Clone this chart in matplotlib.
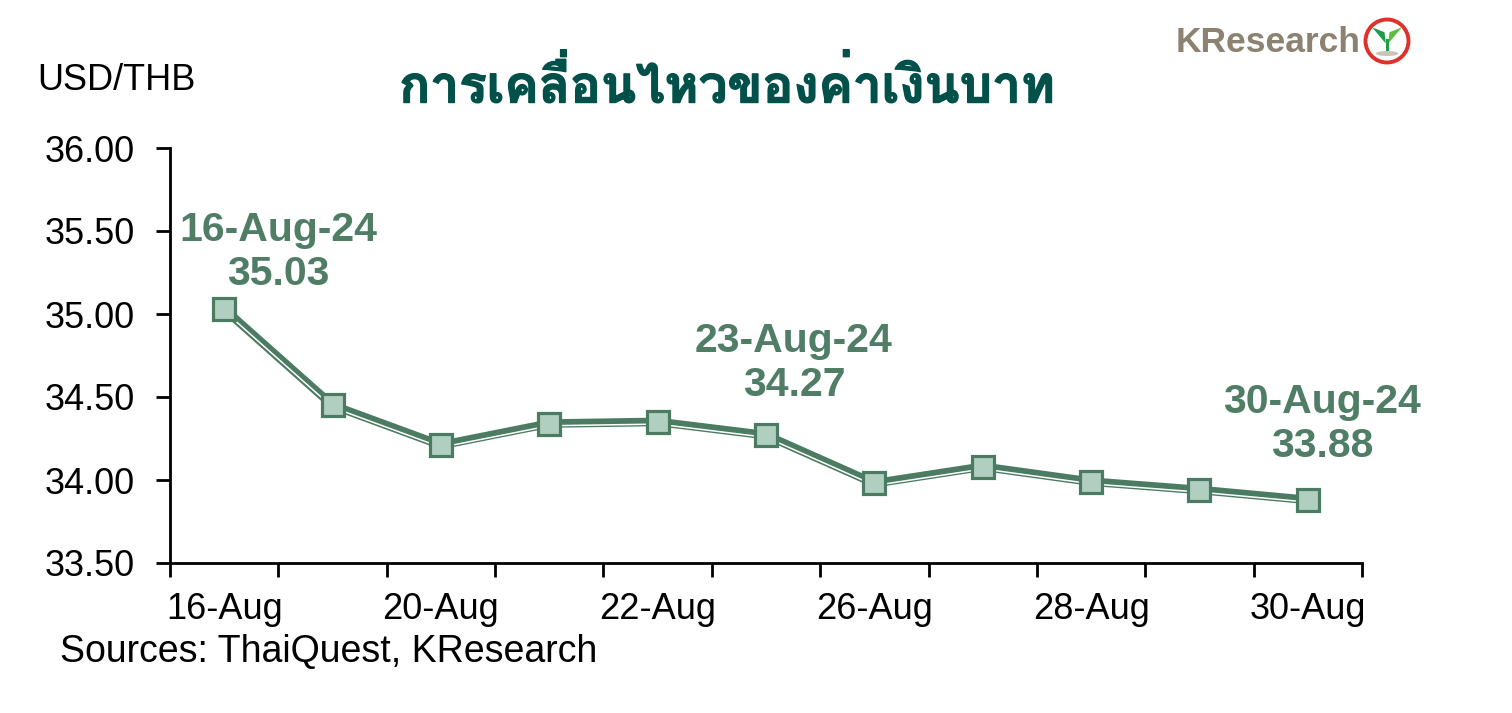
import matplotlib
matplotlib.use("Agg")
import matplotlib.pyplot as plt
from matplotlib import font_manager
from matplotlib.ft2font import FT2Font
from matplotlib.patches import Circle, Polygon, Ellipse
import matplotlib.transforms as mtrans
import matplotlib.patheffects as pe

# ---- data ----
dates = ["16-Aug", "19-Aug", "20-Aug", "21-Aug", "22-Aug", "23-Aug",
         "26-Aug", "27-Aug", "28-Aug", "29-Aug", "30-Aug"]
values = [35.03, 34.45, 34.21, 34.34, 34.35, 34.27, 33.98, 34.08, 33.99, 33.94, 33.88]
label_dates = ["16-Aug", "20-Aug", "22-Aug", "26-Aug", "28-Aug", "30-Aug"]
ann_idx = [0, 5, 10]
ann_text = ["16-Aug-24", "23-Aug-24", "30-Aug-24"]
yticks = [33.5, 34.0, 34.5, 35.0, 35.5, 36.0]
title = "การเคลื่อนไหวของค่าเงินบาท"
ylabel = "USD/THB"
source = "Sources: ThaiQuest, KResearch"

# find a font covering Thai (prefer bold)
thai_font = None
for f in font_manager.fontManager.ttflist:
    try:
        cm = FT2Font(f.fname).get_charmap()
        if 0x0E01 in cm and 0x0E32 in cm:
            thai_font = f.name
            if "Bold" in f.fname or f.weight in ("bold", 700):
                break
    except Exception:
        pass

plt.rcParams['font.family'] = ['Liberation Sans', 'DejaVu Sans']

GREEN = "#4b7b63"
FACE = "#b1cfc1"
ANN = "#4f7d66"
TITLE_C = "#01514a"

fig = plt.figure(figsize=(15.12, 7.13), dpi=100)
ax = fig.add_axes([170/1512, 1-563/713, (1362-170)/1512, (563-148)/713])

x = list(range(len(dates)))
ax.plot(x, values, color=GREEN, lw=6.2, solid_joinstyle='miter', zorder=2)
off = mtrans.offset_copy(ax.transData, fig=fig, x=0.3, y=-2.2, units='dots')
ax.plot(x, values, color="white", lw=1.1, transform=off, zorder=3)
ax.plot(x, values, ls='none', marker='s', ms=15.5, mfc=FACE, mec=GREEN, mew=2.3, zorder=4)

ax.set_xlim(-0.5, len(dates) - 0.5)
ax.set_ylim(33.5, 36.0)
ax.set_yticks(yticks)
ax.set_yticklabels([f"{v:.2f}" for v in yticks])
ax.set_xticks([i - 0.5 for i in range(len(dates) + 1)])
ax.set_xticklabels([])
lab_pos = [dates.index(d) for d in label_dates]
ax.set_xticks(lab_pos, minor=True)
ax.set_xticklabels(label_dates, minor=True)
ax.tick_params(axis='x', which='minor', length=0, pad=21, labelsize=26)
ax.tick_params(axis='x', which='major', length=10, width=2, direction='out')
ax.tick_params(axis='y', length=10, width=2, direction='out', labelsize=26, pad=15)
for s in ['top', 'right']:
    ax.spines[s].set_visible(False)
for s in ['left', 'bottom']:
    ax.spines[s].set_linewidth(2)

offsets = [(54, 57), (28, 72), (14, 76)]
for i, t, o in zip(ann_idx, ann_text, offsets):
    ax.annotate(f"{t}\n{values[i]:.2f}", xy=(i, values[i]), xytext=o,
                textcoords='offset pixels', ha='center', va='center',
                fontsize=29.5, fontweight='bold', color=ANN, linespacing=1.22)

fig.text(37/1512, 1-80/713, ylabel, fontsize=26, va='center', ha='left')
fig.text(60/1512, 1-652/713, source, fontsize=27, va='center', ha='left')
tfam = [thai_font, 'DejaVu Sans'] if thai_font else ['DejaVu Sans']
fig.text(727/1512, 1-85/713, title, fontsize=37, fontweight='heavy', color=TITLE_C,
         ha='center', va='center', family=tfam,
         path_effects=[pe.withStroke(linewidth=1.0, foreground=TITLE_C)])

# logo
fig.text(1176/1512, 1-42/713, "KResearch", fontsize=25.5, fontweight='bold',
         color="#8c8272", ha='left', va='center')
lax = fig.add_axes([(1387-25)/1512, 1-(41+25)/713, 50/1512, 50/713])
lax.set_xlim(-1, 1); lax.set_ylim(-1, 1); lax.axis('off')
lax.add_patch(Circle((0, 0), 0.86, fc='white', ec='#e0302a', lw=2.8))
lax.add_patch(Polygon([[-0.05, -0.1], [-0.6, 0.55], [-0.1, 0.35]], fc='#1f9e4a', ec='none'))
lax.add_patch(Polygon([[0.05, -0.1], [0.6, 0.55], [0.1, 0.35]], fc='#5cbf3f', ec='none'))
lax.add_patch(Polygon([[-0.06, -0.45], [0.06, -0.45], [0.06, 0.1], [-0.06, 0.1]], fc='#1f9e4a', ec='none'))
lax.add_patch(Ellipse((0, -0.5), 0.9, 0.2, fc='#c9c3b8', ec='none'))

fig.savefig("out.png", dpi=100)
